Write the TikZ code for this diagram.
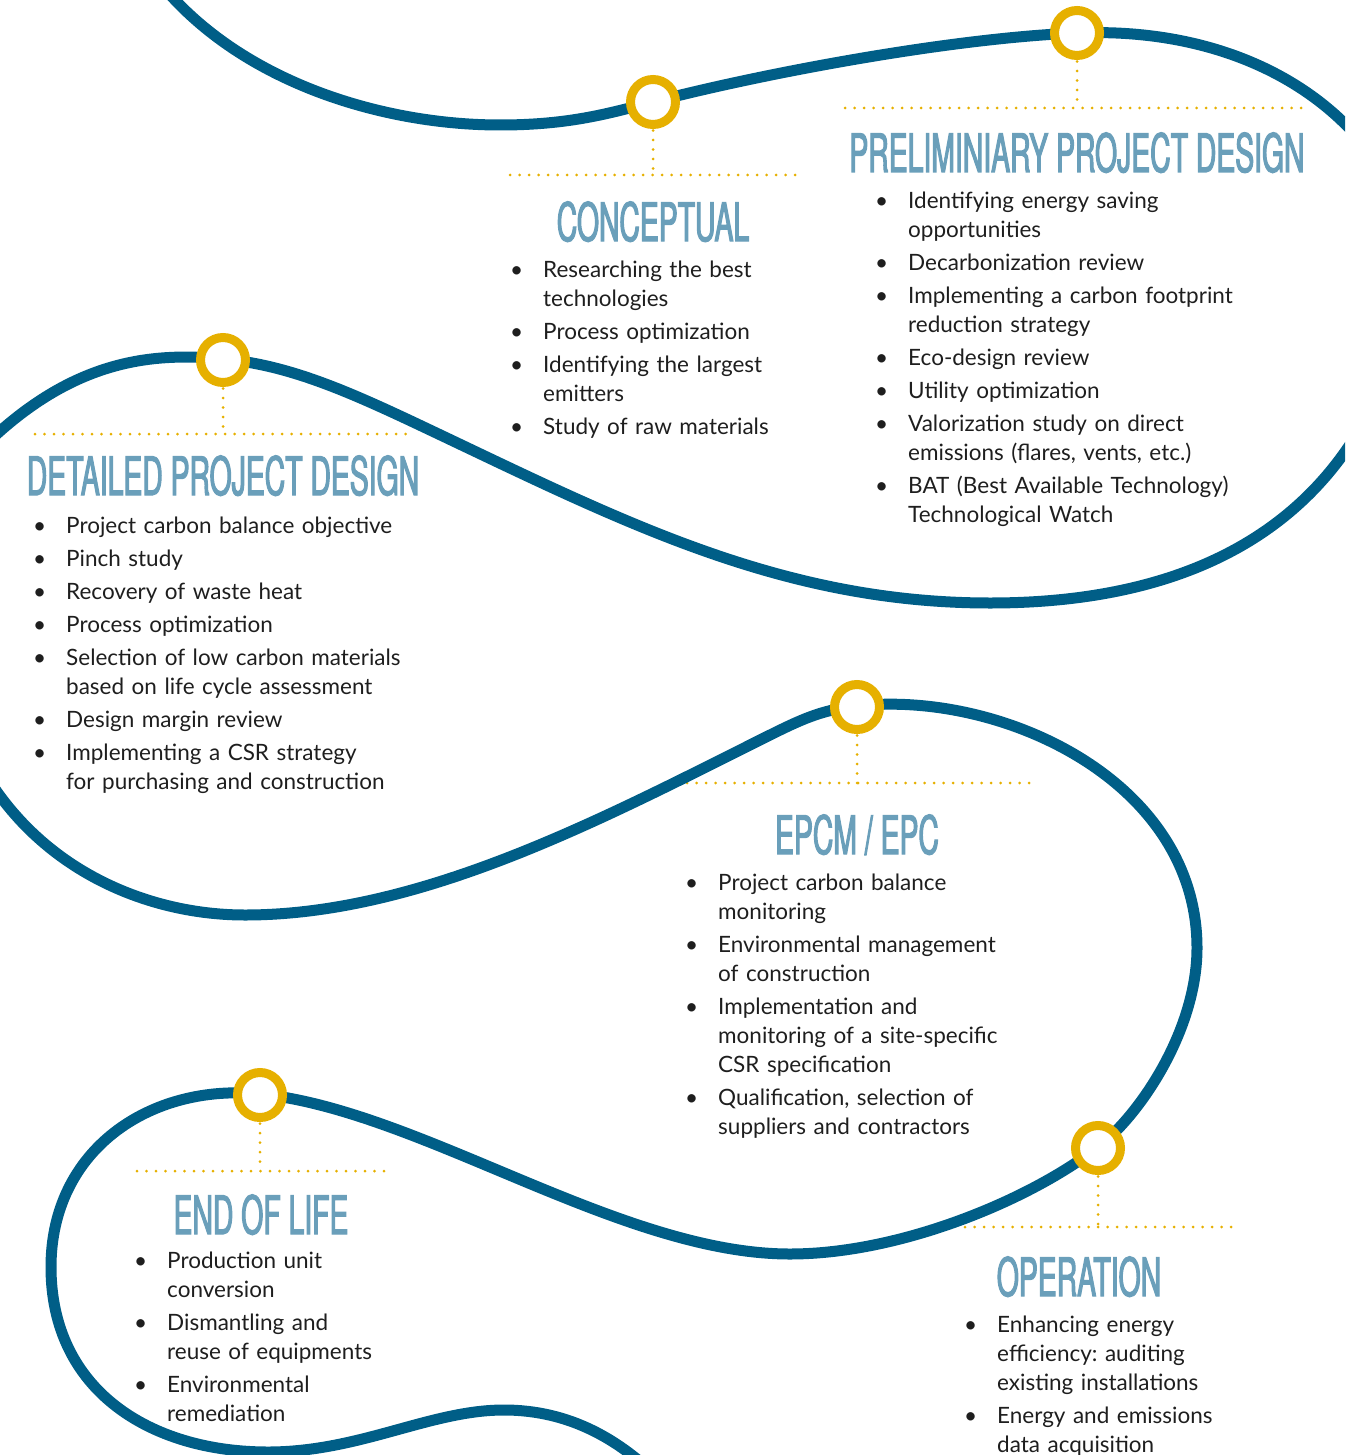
\documentclass[tikz,border=0pt]{standalone}
\usepackage{fontspec}
\setmainfont{Lato}
\newfontfamily\titlefont[FakeStretch=0.535, FakeBold=2]{TeX Gyre Heros}
\usepackage{enumitem}
\setlist[itemize]{label=\textbullet, nosep, itemsep=4pt, leftmargin=28pt, labelsep=20pt}
\usetikzlibrary{positioning}

\definecolor{roadblue}{RGB}{0,94,135}
\definecolor{ringgold}{RGB}{230,176,0}
\definecolor{titleblue}{RGB}{106,159,186}
\definecolor{textgray}{RGB}{30,30,30}

\begin{document}
\frenchspacing
\begin{tikzpicture}[x=1pt, y=-1pt,
    road/.style={draw=roadblue, line width=11pt},
    ring/.style={circle, draw=ringgold, line width=9pt, fill=white, minimum size=45pt, inner sep=0pt},
    guide/.style={draw=ringgold, line width=3pt, line cap=round, dash pattern=on 0pt off 9.5pt},
    stage/.style={anchor=base, text=titleblue, font=\titlefont\fontsize{53}{53}\selectfont},
    tasks/.style={anchor=north west, inner sep=0pt, text width=420pt, text=textgray, font=\fontsize{22.5}{29}\selectfont}]
    % Canvas
    \clip (0,0) rectangle (1345,1455);

    % Dotted guides under each ring
    \foreach \name/\x/\y/\h/\l/\r in {conc/653/102/175/510/798, prel/1077/33/108/845/1310,
        det/223/360/434/35/410, epc/857/707/783/687/1030, oper/1098/1148/1227/965/1233, eol/260/1095/1171/137/385} {
        \coordinate (\name-ring) at (\x,\y);
        \coordinate (\name-fork) at (\x,\h);
        \coordinate (\name-left) at (\l,\h);
        \coordinate (\name-right) at (\r,\h);
        \draw[guide] (\name-ring) -- (\name-fork);
        \draw[guide] (\name-left) -- (\name-right);
    }

    % The road
    \draw[road] (150,-30) .. controls (230,80) and (380,125) .. (500,125)
        .. controls (570,125) and (610,113) .. (653,102)
        .. controls (760,74) and (950,38) .. (1077,33)
        .. controls (1200,28) and (1300,70) .. (1360,140);
    \draw[road] (1365,420) .. controls (1290,555) and (1150,603) .. (990,603)
        .. controls (780,603) and (620,520) .. (430,430)
        .. controls (350,392) and (290,365) .. (223,359)
        .. controls (150,352) and (70,360) .. (-20,450);
    \draw[road] (-20,765) .. controls (40,872) and (150,915) .. (245,915)
        .. controls (420,915) and (600,820) .. (760,740)
        .. controls (800,720) and (820,710) .. (857,706)
        .. controls (1000,690) and (1197,780) .. (1197,948)
        .. controls (1197,1030) and (1140,1115) .. (1098,1147)
        .. controls (1030,1200) and (900,1254) .. (790,1254)
        .. controls (620,1254) and (420,1110) .. (260,1094)
        .. controls (150,1083) and (51,1150) .. (51,1267)
        .. controls (51,1390) and (150,1452) .. (268,1452)
        .. controls (360,1452) and (430,1410) .. (504,1410)
        .. controls (570,1410) and (620,1440) .. (660,1480);

    % Rings
    \foreach \name in {conc, prel, det, epc, oper, eol}
        \node[ring] (\name) at (\name-ring) {};

    % Stage titles
    \node[stage] (conc-title) at (653,241) {CONCEPTUAL};
    \node[stage] (prel-title) at (1077,172) {PRELIMINIARY PROJECT DESIGN};
    \node[stage] (det-title) at (223,495) {DETAILED PROJECT DESIGN};
    \node[stage] (epc-title) at (857,854) {EPCM / EPC};
    \node[stage] (oper-title) at (1079,1296) {OPERATION};
    \node[stage] (eol-title) at (261,1234) {END OF LIFE};

    % Task lists
    \node[tasks] (conc-list) at (515,248) {\begin{itemize}
        \item Researching the best\\technologies
        \item Process optimization
        \item Identifying the largest\\emitters
        \item Study of raw materials
    \end{itemize}};
    \node[tasks] (prel-list) at (880,179) {\begin{itemize}
        \item Identifying energy saving\\opportunities
        \item Decarbonization review
        \item Implementing a carbon footprint\\reduction strategy
        \item Eco-design review
        \item Utility optimization
        \item Valorization study on direct\\emissions (flares, vents, etc.)
        \item BAT (Best Available Technology)\\Technological Watch
    \end{itemize}};
    \node[tasks] (det-list) at (38,504) {\begin{itemize}
        \item Project carbon balance objective
        \item Pinch study
        \item Recovery of waste heat
        \item Process optimization
        \item Selection of low carbon materials\\based on life cycle assessment
        \item Design margin review
        \item Implementing a CSR strategy\\for purchasing and construction
    \end{itemize}};
    \node[tasks] (epc-list) at (690,861) {\begin{itemize}
        \item Project carbon balance\\monitoring
        \item Environmental management\\of construction
        \item Implementation and\\monitoring of a site-specific\\CSR specification
        \item Qualification, selection of\\suppliers and contractors
    \end{itemize}};
    \node[tasks] (oper-list) at (969,1303) {\begin{itemize}
        \item Enhancing energy\\efficiency: auditing\\existing installations
        \item Energy and emissions\\data acquisition
    \end{itemize}};
    \node[tasks] (eol-list) at (139,1239) {\begin{itemize}
        \item Production unit\\conversion
        \item Dismantling and\\reuse of equipments
        \item Environmental\\remediation
    \end{itemize}};
\end{tikzpicture}
\end{document}
